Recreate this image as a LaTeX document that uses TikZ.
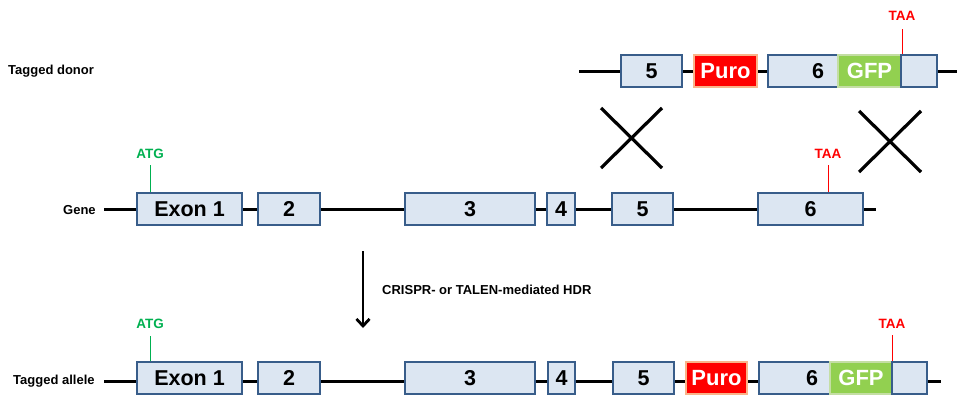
\documentclass[tikz,border=0pt]{standalone}
\usepackage{fontspec}
\setmainfont{Liberation Sans}
\usetikzlibrary{arrows.meta}
\definecolor{exfill}{HTML}{DCE6F2}
\definecolor{exdraw}{HTML}{385D8A}
\definecolor{purofill}{HTML}{FF0000}
\definecolor{purodraw}{HTML}{F9B48A}
\definecolor{gfpfill}{HTML}{92D050}
\definecolor{gfpdraw}{HTML}{C4DEA4}
\definecolor{atgcol}{HTML}{00B050}
\definecolor{taacol}{HTML}{FF0000}
\tikzset{
  exon/.style={draw=exdraw, fill=exfill, line width=2.8pt, minimum height=32pt, inner sep=0pt, font=\fontsize{21.5}{21.5}\selectfont\bfseries},
  puro/.style={draw=purodraw, fill=purofill, line width=2.8pt, minimum height=32pt, inner sep=0pt, text=white, font=\fontsize{22}{22}\selectfont\bfseries},
  gfp/.style={draw=gfpdraw, fill=gfpfill, line width=2.8pt, minimum height=32pt, inner sep=0pt, text=white, font=\fontsize{22}{22}\selectfont\bfseries},
  numtxt/.style={inner sep=0pt, font=\fontsize{21.5}{21.5}\selectfont\bfseries},
  backbone/.style={line width=3pt, black},
  rowlabel/.style={inner sep=0pt, anchor=west, font=\fontsize{13}{13}\selectfont\bfseries},
  sitelabel/.style={inner sep=0pt, font=\fontsize{13.5}{13.5}\selectfont\bfseries},
  crossline/.style={line width=3.2pt, black},
}
\begin{document}
\begin{tikzpicture}[x=1pt,y=-1pt]
\useasboundingbox (0,0) rectangle (961,399);

% ---------------- Tagged donor ----------------
\node[rowlabel] (lDonor) at (8,71) {Tagged donor};
\coordinate (d0) at (579,71);
\coordinate (d9) at (957,71);
\node[exon, minimum width=61pt] (d5) at (651.5,71) {5};
\node[puro, minimum width=63pt] (dPuro) at (725.5,71) {Puro};
\node[exon, minimum width=70pt] (d6) at (803,71) {};
\node[numtxt] (d6t) at (818,71) {6};
\node[gfp, minimum width=63pt] (dGFP) at (869.5,71) {GFP};
\node[exon, minimum width=36pt] (dEnd) at (919,71) {};
\draw[backbone] (d0) -- (d5.west);
\draw[backbone] (d5.east) -- (dPuro.west);
\draw[backbone] (dPuro.east) -- (d6.west);
\draw[backbone] (dEnd.east) -- (d9);
\node[sitelabel, text=taacol] (dTAA) at (902,16) {TAA};
\coordinate (dTAAb) at (902,29);
\draw[taacol, line width=1pt] (dTAAb) -- (dTAAb |- dEnd.north);

% ---------------- crosses ----------------
\coordinate (x1a) at (601,108);
\coordinate (x1b) at (662,168);
\coordinate (x1c) at (662,108);
\coordinate (x1d) at (601,168);
\draw[crossline] (x1a) -- (x1b);
\draw[crossline] (x1c) -- (x1d);
\coordinate (x2a) at (859,111);
\coordinate (x2b) at (921,172);
\coordinate (x2c) at (921,111);
\coordinate (x2d) at (859,172);
\draw[crossline] (x2a) -- (x2b);
\draw[crossline] (x2c) -- (x2d);

% ---------------- Gene ----------------
\node[rowlabel] (lGene) at (63,210) {Gene};
\coordinate (g0) at (104,209);
\coordinate (g9) at (876,209);
\node[exon, minimum width=105pt] (gE1) at (189.5,209) {Exon 1};
\node[exon, minimum width=62pt] (g2) at (289,209) {2};
\node[exon, minimum width=130pt] (g3) at (470,209) {3};
\node[exon, minimum width=28pt] (g4) at (561,209) {4};
\node[exon, minimum width=61pt] (g5) at (642.5,209) {5};
\node[exon, minimum width=105pt] (g6) at (810.5,209) {6};
\draw[backbone] (g0) -- (gE1.west);
\draw[backbone] (gE1.east) -- (g2.west);
\draw[backbone] (g2.east) -- (g3.west);
\draw[backbone] (g3.east) -- (g4.west);
\draw[backbone] (g4.east) -- (g5.west);
\draw[backbone] (g5.east) -- (g6.west);
\draw[backbone] (g6.east) -- (g9);
\node[sitelabel, text=atgcol] (gATG) at (150,154) {ATG};
\coordinate (gATGb) at (150,165);
\draw[atgcol, line width=1pt] (gATGb) -- (gATGb |- gE1.north);
\node[sitelabel, text=taacol] (gTAA) at (828,154) {TAA};
\coordinate (gTAAb) at (828,165);
\draw[taacol, line width=1pt] (gTAAb) -- (gTAAb |- g6.north);

% ---------------- arrow ----------------
\coordinate (arTop) at (363,251);
\coordinate (arBot) at (363,328);
\draw[line width=2.8pt, -{Straight Barb[length=7pt,width=13pt,line width=2.8pt]}] (arTop) -- (arBot);
\node[inner sep=0pt, anchor=west, font=\fontsize{13}{13}\selectfont\bfseries] (hdr) at (382,290) {CRISPR- or TALEN-mediated HDR};

% ---------------- Tagged allele ----------------
\node[rowlabel] (lAllele) at (13,381) {Tagged allele};
\coordinate (a0) at (104,381);
\coordinate (a9) at (941,381);
\node[exon, minimum width=105pt] (aE1) at (189.5,378) {Exon 1};
\node[exon, minimum width=62pt] (a2) at (289,378) {2};
\node[exon, minimum width=130pt] (a3) at (470,378) {3};
\node[exon, minimum width=27pt] (a4) at (561.5,378) {4};
\node[exon, minimum width=61pt] (a5) at (643.5,378) {5};
\node[puro, minimum width=61pt] (aPuro) at (716.5,378) {Puro};
\node[exon, minimum width=71pt] (a6) at (794.5,378) {};
\node[numtxt] (a6t) at (812,378) {6};
\node[gfp, minimum width=62pt] (aGFP) at (861,378) {GFP};
\node[exon, minimum width=35pt] (aEnd) at (909.5,378) {};
\draw[backbone] (a0) -- (a0 -| aE1.west);
\draw[backbone] (aE1.east |- a0) -- (a2.west |- a0);
\draw[backbone] (a2.east |- a0) -- (a3.west |- a0);
\draw[backbone] (a3.east |- a0) -- (a4.west |- a0);
\draw[backbone] (a4.east |- a0) -- (a5.west |- a0);
\draw[backbone] (a5.east |- a0) -- (aPuro.west |- a0);
\draw[backbone] (aPuro.east |- a0) -- (a6.west |- a0);
\draw[backbone] (aEnd.east |- a0) -- (a9);
\node[sitelabel, text=atgcol] (aATG) at (150,324) {ATG};
\coordinate (aATGb) at (150,336);
\draw[atgcol, line width=1pt] (aATGb) -- (aATGb |- aE1.north);
\node[sitelabel, text=taacol] (aTAA) at (892,324) {TAA};
\coordinate (aTAAb) at (892,335);
\draw[taacol, line width=1pt] (aTAAb) -- (aTAAb |- aEnd.north);
\end{tikzpicture}
\end{document}
